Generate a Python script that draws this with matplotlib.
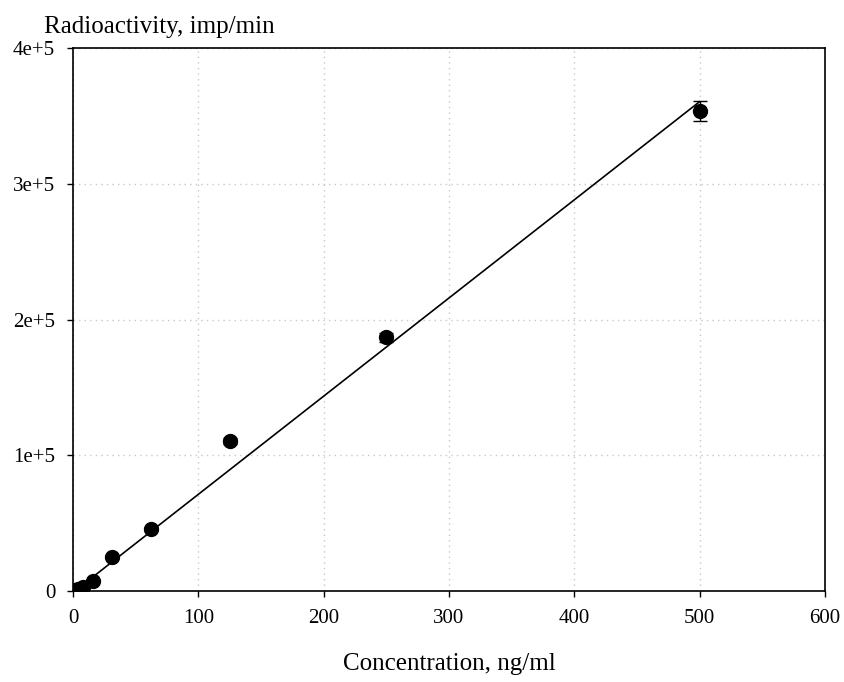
import matplotlib.pyplot as plt
import numpy as np

plt.rcParams['font.family'] = ['Liberation Serif', 'DejaVu Serif']

conc = [0, 1.95, 3.9, 7.8, 15.6, 31.25, 62.5, 125, 250, 500]
activity = [300, 900, 1500, 3000, 7300, 25000, 45500, 110500, 187000, 353500]
err = [400, 400, 500, 600, 800, 1200, 1500, 2500, 3200, 7400]

# linear fit line
fit_x = [0, 500]
fit_y = [-1100, 360500]

fig = plt.figure(figsize=(8.45, 6.82), dpi=100)
ax = fig.add_axes([0.0864, 0.1334, 0.8899, 0.7962])

ax.plot(fit_x, fit_y, color='black', linewidth=1.2, zorder=2)
ax.errorbar(conc, activity, yerr=err, fmt='o', color='black', markersize=10,
            capsize=5, elinewidth=1, capthick=1, zorder=3)

ax.set_xlim(0, 600)
ax.set_ylim(0, 400000)
ax.set_xticks(np.arange(0, 601, 100))
ax.set_yticks([0, 100000, 200000, 300000, 400000])
ax.set_yticklabels(['0', '1e+5', '2e+5', '3e+5', '4e+5'])
ax.tick_params(labelsize=15, direction='out', length=4.3, width=1, pad=8.5)
ax.grid(True, color='#c8c8c8', linestyle=(0, (1, 3)), linewidth=1.0)
ax.set_axisbelow(True)
for s in ax.spines.values():
    s.set_linewidth(1.2)

ax.set_xlabel('Concentration, ng/ml', fontsize=18, labelpad=18)
fig.text(0.189, 0.9516, 'Radioactivity, imp/min', fontsize=18, ha='center', va='baseline')

plt.savefig('out.png')
